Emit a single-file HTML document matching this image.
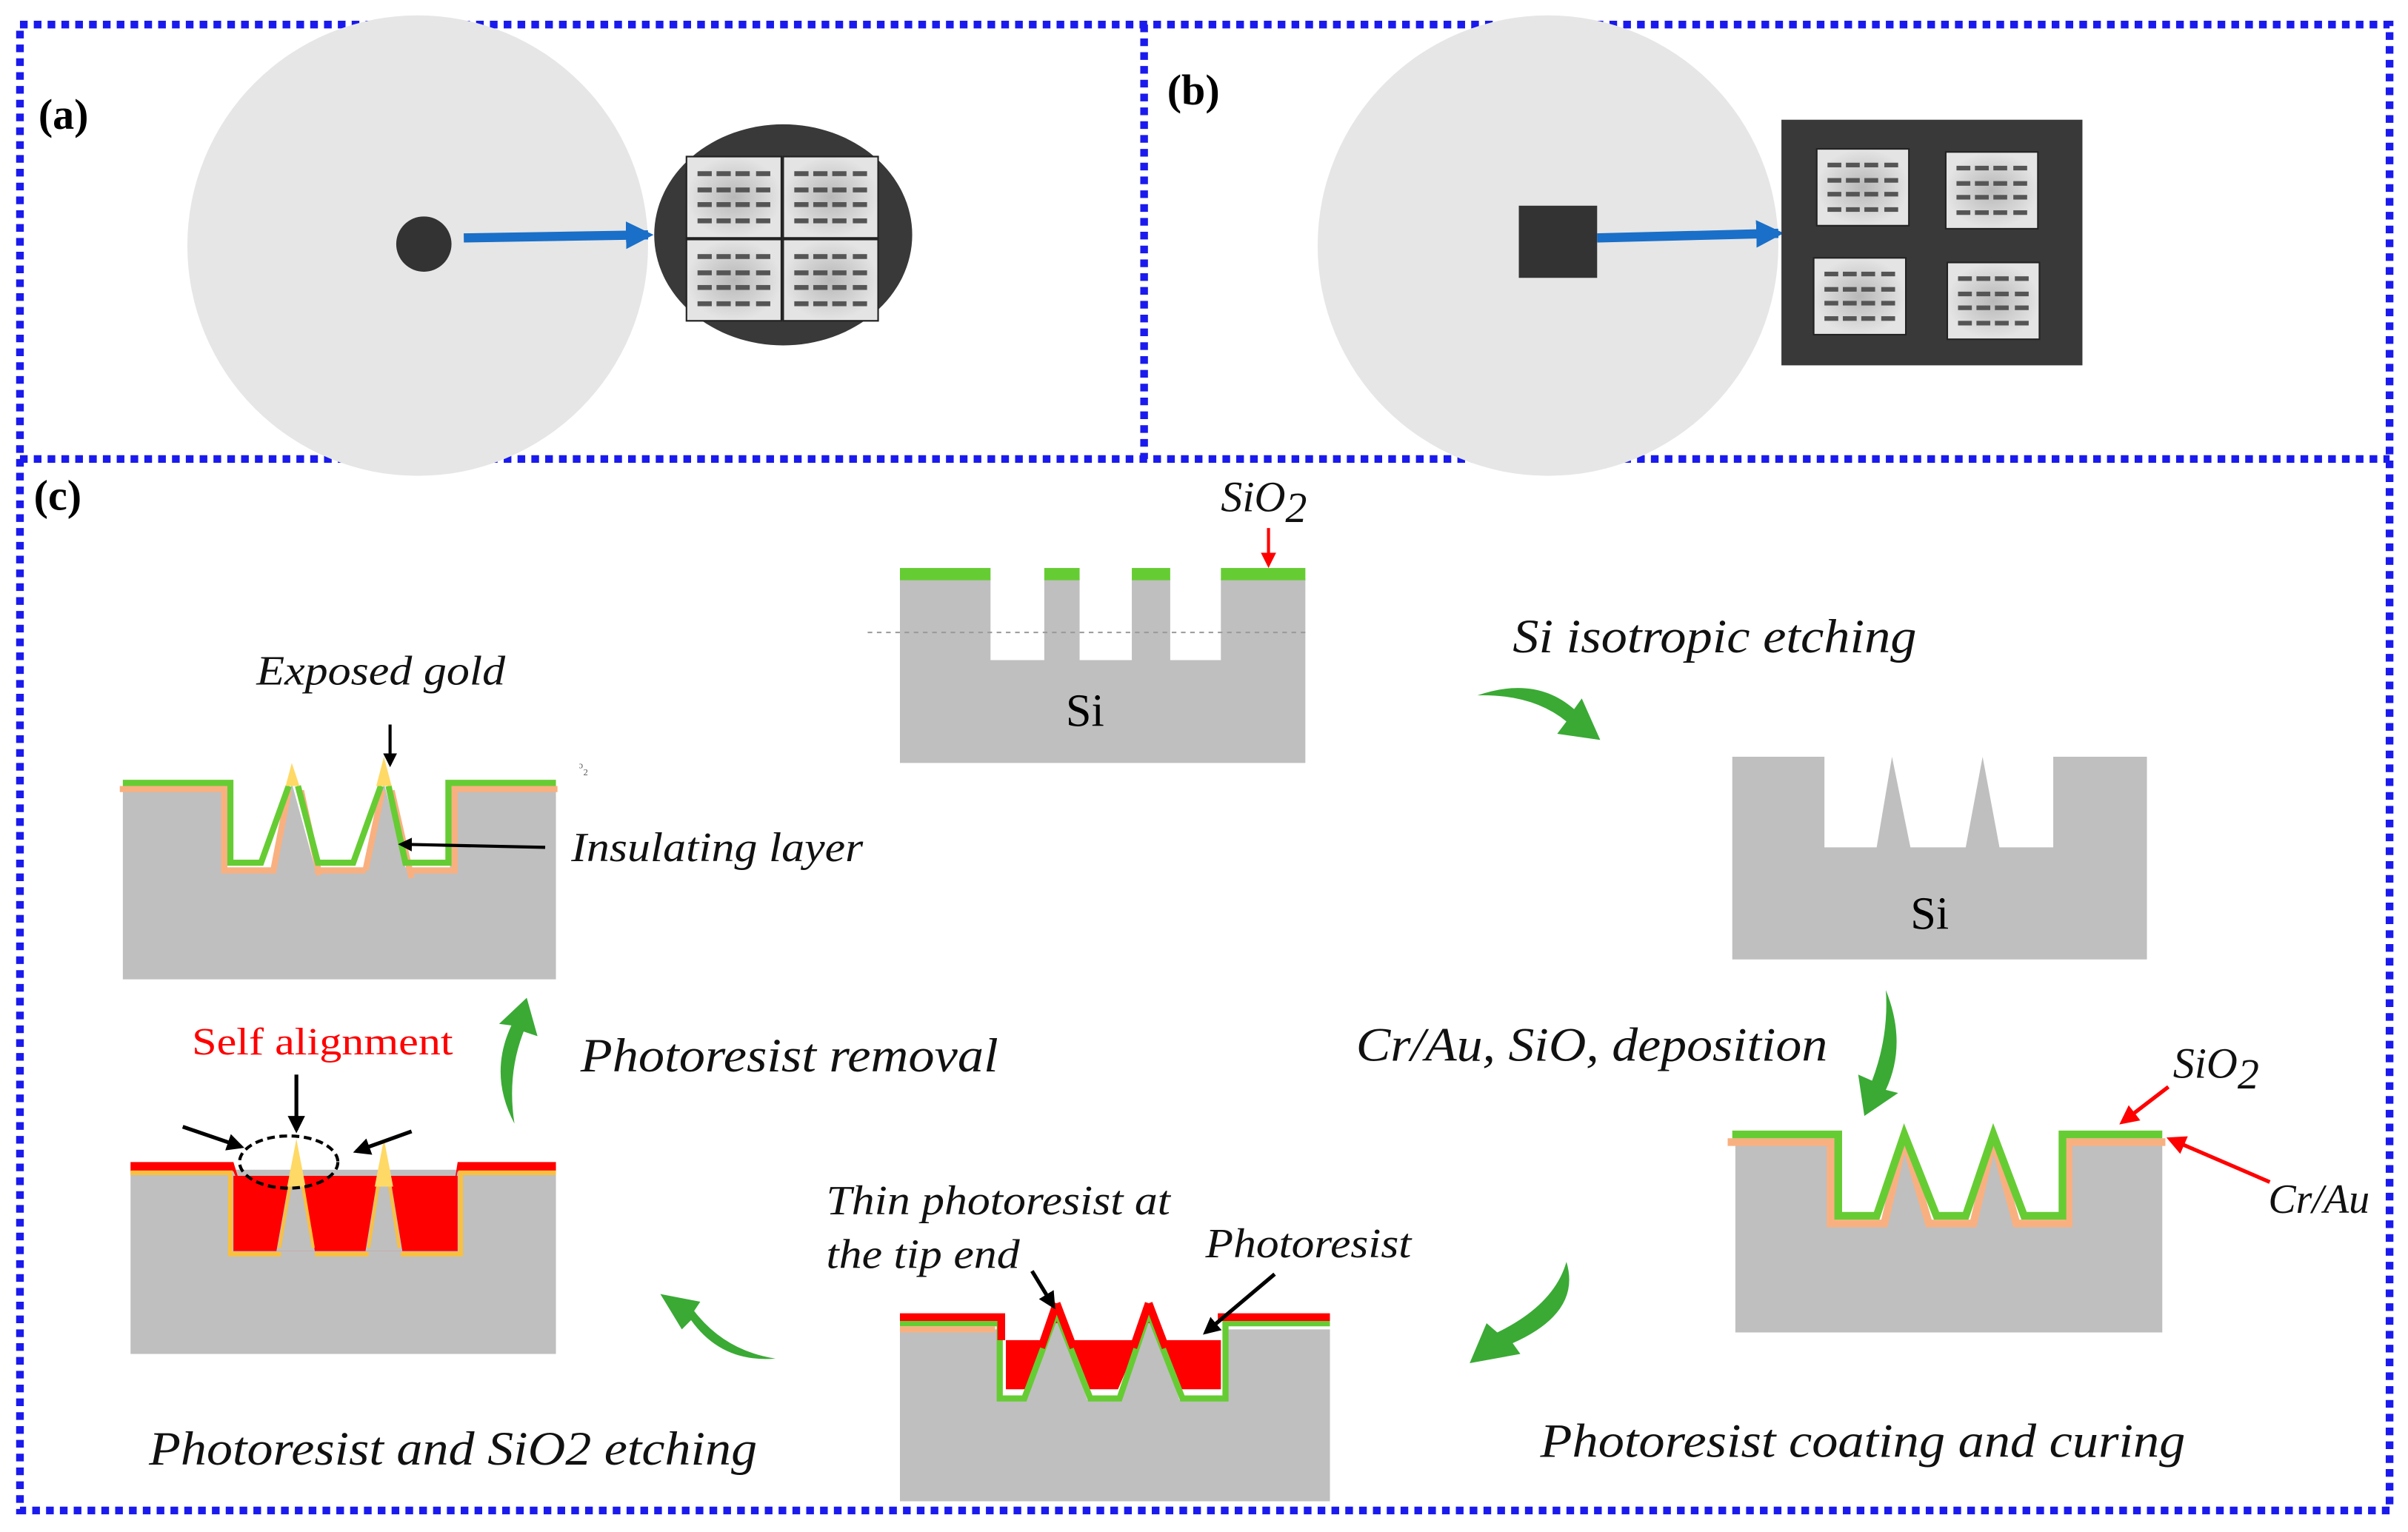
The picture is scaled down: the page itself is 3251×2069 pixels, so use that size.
<!DOCTYPE html>
<html><head><meta charset="utf-8"><style>
html,body{margin:0;padding:0;background:#fff}
svg{display:block}
.t{font-family:"Liberation Serif","Times New Roman",serif;font-style:italic;fill:#111}
.r{font-family:"Liberation Serif","Times New Roman",serif}
</style></head><body>
<svg width="3251" height="2069" viewBox="0 0 1568 998" preserveAspectRatio="none" xmlns="http://www.w3.org/2000/svg">
<defs>
<marker id="ab" viewBox="0 0 10 10" refX="8" refY="5" markerWidth="4.5" markerHeight="4.5" orient="auto"><path d="M0,0L10,5L0,10z" fill="#000"/></marker>
<marker id="ar" viewBox="0 0 10 10" refX="8" refY="5" markerWidth="5" markerHeight="5" orient="auto"><path d="M0,0L10,5L0,10z" fill="#f00"/></marker>
<marker id="abl" viewBox="0 0 10 10" refX="8" refY="5" markerWidth="3" markerHeight="3" orient="auto"><path d="M0,0L10,5L0,10z" fill="#1a6fc8"/></marker>
<radialGradient id="cg"><stop offset="0" stop-color="#b8b8b8"/><stop offset="1" stop-color="#e4e4e4"/></radialGradient>
<g id="chip">
<rect x="0" y="0" width="60" height="50" fill="url(#cg)" stroke="#222" stroke-width="1"/>
<g fill="#555">
<rect x="7" y="9" width="9" height="3"/><rect x="19" y="9" width="9" height="3"/><rect x="31" y="9" width="9" height="3"/><rect x="44" y="9" width="9" height="3"/>
<rect x="7" y="19" width="9" height="3"/><rect x="19" y="19" width="9" height="3"/><rect x="31" y="19" width="9" height="3"/><rect x="44" y="19" width="9" height="3"/>
<rect x="7" y="28" width="9" height="3"/><rect x="19" y="28" width="9" height="3"/><rect x="31" y="28" width="9" height="3"/><rect x="44" y="28" width="9" height="3"/>
<rect x="7" y="38" width="9" height="3"/><rect x="19" y="38" width="9" height="3"/><rect x="31" y="38" width="9" height="3"/><rect x="44" y="38" width="9" height="3"/>
</g></g>
</defs>

<!-- borders -->
<g fill="none" stroke="#1a1aee" stroke-width="5" stroke-dasharray="5 4">
<rect x="13" y="16" width="1543" height="968"/>
<line x1="13" y1="299" x2="1556" y2="299"/>
<line x1="745" y1="16" x2="745" y2="299"/>
</g>

<!-- (a) -->
<text class="r" x="25" y="84" font-weight="bold" font-size="28">(a)</text>
<circle cx="272" cy="160" r="150" fill="#e6e6e6"/>
<circle cx="276" cy="159" r="18" fill="#333"/>
<line x1="302" y1="155" x2="422" y2="153" stroke="#1a6fc8" stroke-width="6" marker-end="url(#abl)"/>
<ellipse cx="510" cy="153" rx="84" ry="72" fill="#393939"/>
<g transform="translate(447,102) scale(1.03,1.06)"><use href="#chip"/></g>
<g transform="translate(510,102) scale(1.03,1.06)"><use href="#chip"/></g>
<g transform="translate(447,156) scale(1.03,1.06)"><use href="#chip"/></g>
<g transform="translate(510,156) scale(1.03,1.06)"><use href="#chip"/></g>

<!-- (b) -->
<text class="r" x="760" y="68" font-weight="bold" font-size="28">(b)</text>
<circle cx="1008" cy="160" r="150" fill="#e6e6e6"/>
<rect x="989" y="134" width="51" height="47" fill="#333"/>
<line x1="1040" y1="155" x2="1158" y2="152" stroke="#1a6fc8" stroke-width="6" marker-end="url(#abl)"/>
<rect x="1160" y="78" width="196" height="160" fill="#393939"/>
<use href="#chip" transform="translate(1183,97)"/>
<use href="#chip" transform="translate(1267,99)"/>
<use href="#chip" transform="translate(1181,168)"/>
<use href="#chip" transform="translate(1268,171)"/>

<!-- (c) -->
<text class="r" x="22" y="332" font-weight="bold" font-size="28">(c)</text>

<!-- top center -->
<path d="M586,377H645V430H680V377H703V430H737V377H762V430H795V377H850V497H586Z" fill="#bfbfbf"/>
<g fill="#66cc33"><rect x="586" y="370" width="59" height="8"/><rect x="680" y="370" width="23" height="8"/><rect x="737" y="370" width="25" height="8"/><rect x="795" y="370" width="55" height="8"/></g>
<line x1="565" y1="412" x2="850" y2="412" stroke="#999" stroke-width="1" stroke-dasharray="3 3"/>
<text class="r" x="694" y="473" font-size="30">Si</text>
<text class="t" x="795" y="333" font-size="28">SiO<tspan dy="7">2</tspan></text>
<line x1="826" y1="344" x2="826" y2="368" stroke="#f00" stroke-width="2" marker-end="url(#ar)"/>

<!-- top right -->
<path d="M1128,493H1188V552H1222L1232,493L1244,552H1280L1291,493L1302,552H1337V493H1398V625H1128Z" fill="#bfbfbf"/>
<text class="r" x="1244" y="605" font-size="30">Si</text>
<text class="t" x="985" y="425" font-size="31" textLength="263" lengthAdjust="spacingAndGlyphs">Si isotropic etching</text>

<!-- middle right -->
<path d="M1130,742H1195V795H1225L1240,739L1258,795H1283L1298,739L1315,795H1345V742H1408V868H1130Z" fill="#bfbfbf"/>
<path d="M1125,744H1192V797H1227L1240,742L1256,797H1285L1298,742L1313,797H1347V744H1410" fill="none" stroke="#f9b080" stroke-width="5"/>
<path d="M1128,739H1197V792H1222L1240,739L1261,792H1280L1298,739L1318,792H1343V739H1408" fill="none" stroke="#66cc33" stroke-width="5"/>
<text class="t" x="1415" y="702" font-size="28">SiO<tspan dy="7">2</tspan></text>
<line x1="1412" y1="708" x2="1382" y2="731" stroke="#f00" stroke-width="2.5" marker-end="url(#ar)"/>
<text class="t" x="1477" y="790" font-size="27">Cr/Au</text>
<line x1="1478" y1="770" x2="1413" y2="742" stroke="#f00" stroke-width="2.5" marker-end="url(#ar)"/>
<text class="t" x="883" y="691" font-size="31" textLength="307" lengthAdjust="spacingAndGlyphs">Cr/Au, SiO, deposition</text>

<!-- bottom center -->
<path d="M586,866H650V912H668L688,853L708,912H730L748,853L768,912H797V866H866V978H586Z" fill="#bfbfbf"/>
<path d="M655,873H680L684,862L692,862L697,873H740L744,862L752,862L757,873H795V905H768L748,858L728,905H708L688,858L668,905H655Z" fill="#f00"/>
<path d="M586,862H651V911H667L688,855L710,911H729L748,855L770,911H798V862H866" fill="none" stroke="#66cc33" stroke-width="4"/>
<path d="M586,858H652V873M688,849L678,878M688,849L699,878M748,849L738,878M748,849L759,878M793,858H866" fill="none" stroke="#f00" stroke-width="5"/>
<rect x="586" y="864" width="62" height="4" fill="#f9b080"/>
<text class="t" x="538" y="791" font-size="27" textLength="224" lengthAdjust="spacingAndGlyphs">Thin photoresist at</text>
<text class="t" x="538" y="826" font-size="27" textLength="126" lengthAdjust="spacingAndGlyphs">the tip end</text>
<text class="t" x="785" y="819" font-size="27" textLength="134" lengthAdjust="spacingAndGlyphs">Photoresist</text>
<line x1="672" y1="828" x2="686" y2="851" stroke="#000" stroke-width="2.5" marker-end="url(#ab)"/>
<line x1="830" y1="830" x2="785" y2="868" stroke="#000" stroke-width="2.5" marker-end="url(#ab)"/>
<text class="t" x="1003" y="949" font-size="31" textLength="420" lengthAdjust="spacingAndGlyphs">Photoresist coating and curing</text>

<!-- bottom left -->
<rect x="85" y="762" width="277" height="120" fill="#bfbfbf"/>
<path d="M152,766V815H298V766" fill="#f00"/>
<path d="M152,757H85V763H152L156,773H296L298,763H362V757H298L296,770H156Z" fill="#f00"/>
<path d="M156,773H296V813H156Z" fill="#f00"/>
<path d="M180,815L193,742L205,815Z M238,815L250,742L262,815Z" fill="#bfbfbf"/>
<path d="M85,764H150V817H183M205,817H240M261,817H300V764H362" fill="none" stroke="#f9c040" stroke-width="3"/>
<path d="M182,813L193,748M204,813L193,748M240,813L250,748M260,813L250,748" fill="none" stroke="#f9c040" stroke-width="2"/>
<path d="M187,773L193,742L199,773Z M244,773L250,742L256,773Z" fill="#ffd966"/>
<ellipse cx="188" cy="757" rx="32" ry="17" fill="none" stroke="#000" stroke-width="2" stroke-dasharray="5 3"/>
<line x1="119" y1="734" x2="157" y2="747" stroke="#000" stroke-width="2.5" marker-end="url(#ab)"/>
<line x1="193" y1="700" x2="193" y2="736" stroke="#000" stroke-width="2.5" marker-end="url(#ab)"/>
<line x1="268" y1="737" x2="232" y2="750" stroke="#000" stroke-width="2.5" marker-end="url(#ab)"/>
<text class="r" x="125" y="687" font-size="25" fill="#f00" textLength="170" lengthAdjust="spacingAndGlyphs">Self alignment</text>
<text class="t" x="97" y="954" font-size="31" textLength="396" lengthAdjust="spacingAndGlyphs">Photoresist and SiO2 etching</text>

<!-- top left -->
<path d="M80,514H148V565H180L190,510L205,565H238L250,510L264,565H293V514H362V638H80Z" fill="#bfbfbf"/>
<path d="M78,514H146V567H180M178,567L188,515M196,515L208,570M205,567H238M238,567L249,515M255,515L268,572M266,567H296V514H363" fill="none" stroke="#f9b080" stroke-width="4"/>
<path d="M80,510H150V562H170L188,512M194,512L207,562H230L248,512M253,512L264,562H292V510H362" fill="none" stroke="#66cc33" stroke-width="4"/>
<path d="M186,512L190,497L195,512Z M245,512L250,493L255,512Z" fill="#ffd966"/>
<text class="t" x="167" y="446" font-size="27" textLength="162" lengthAdjust="spacingAndGlyphs">Exposed gold</text>
<line x1="254" y1="472" x2="254" y2="498" stroke="#000" stroke-width="2" marker-end="url(#ab)"/>
<text class="t" x="372" y="561" font-size="27" textLength="190" lengthAdjust="spacingAndGlyphs">Insulating layer</text>
<line x1="355" y1="552" x2="261" y2="550" stroke="#000" stroke-width="2" marker-end="url(#ab)"/>
<text class="r" x="377" y="503" font-size="10" fill="#555">ᵓ₂</text>
<text class="t" x="378" y="698" font-size="31" textLength="272" lengthAdjust="spacingAndGlyphs">Photoresist removal</text>

<!-- green curved arrows -->
<g fill="#3aaa35">
<path d="M962,453Q1000,440 1025,462L1030,455L1042,482L1014,478L1020,470Q998,452 962,453Z"/>
<path d="M1228,645Q1242,680 1228,710L1236,712L1214,727L1210,700L1219,704Q1230,675 1228,645Z"/>
<path d="M1020,822Q1030,855 985,875L990,882L957,888L968,862L975,868Q1012,850 1020,822Z"/>
<path d="M505,885Q470,888 450,860L444,866L430,843L456,848L452,854Q472,880 505,885Z"/>
<path d="M335,732Q318,700 333,668L325,667L343,650L350,675L341,672Q330,700 335,732Z"/>
</g>
</svg>
</body></html>
